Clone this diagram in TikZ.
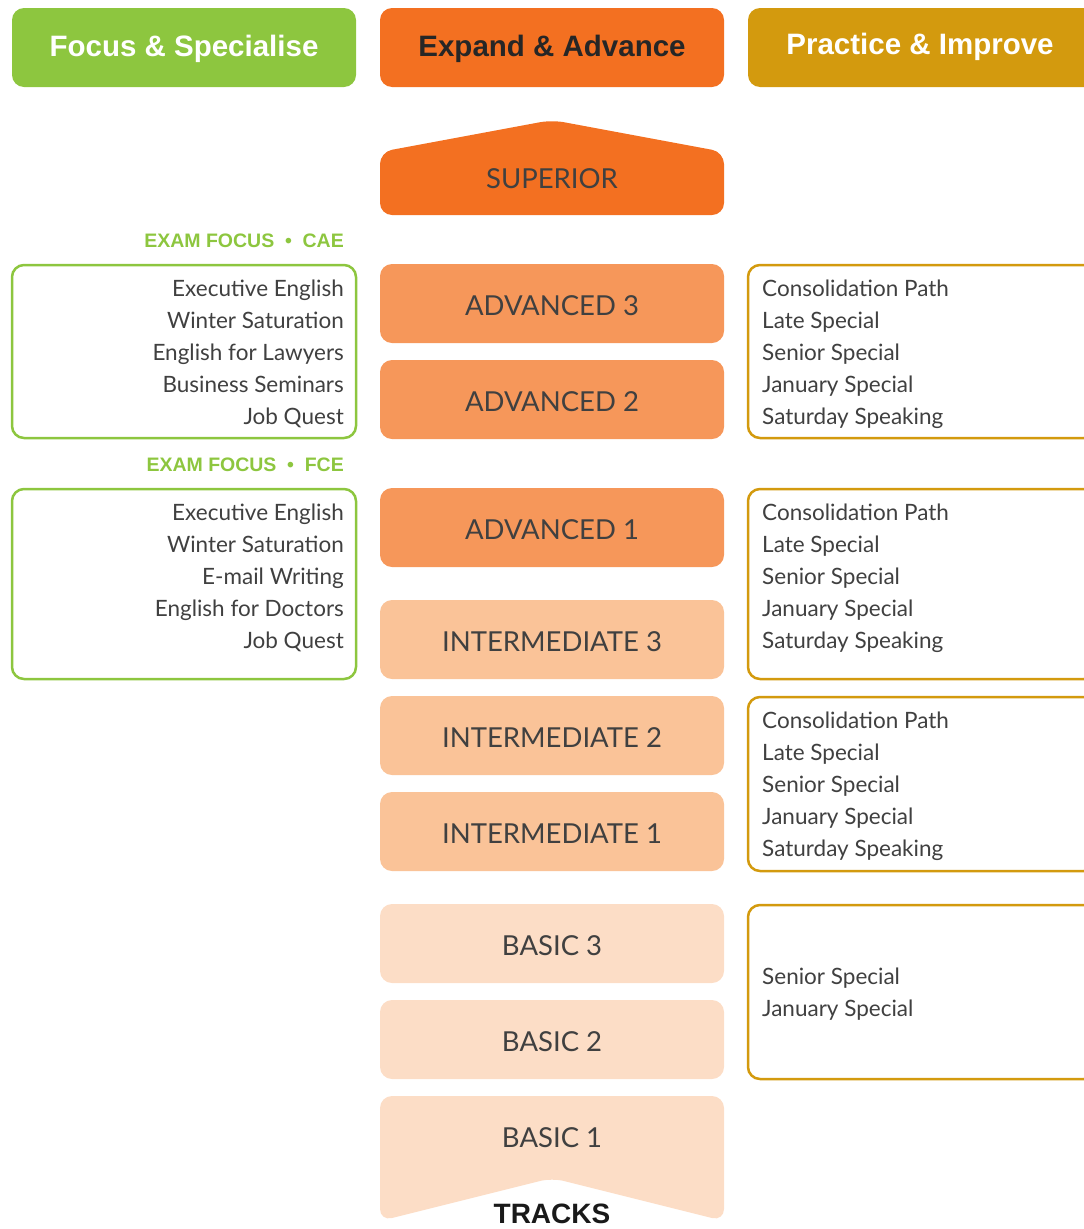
\documentclass[tikz,border=0pt]{standalone}
\usepackage{fontspec}
\setmainfont{Lato}
\newfontfamily\hdfont{Liberation Sans}
\definecolor{grn}{HTML}{8DC63F}
\definecolor{org}{HTML}{F37021}
\definecolor{gld}{HTML}{D39A0E}
\definecolor{advc}{HTML}{F6975A}
\definecolor{intc}{HTML}{FAC398}
\definecolor{basc}{HTML}{FCDDC6}
\definecolor{txt}{HTML}{404040}
\begin{document}
\begin{tikzpicture}[x=1pt,y=-1pt,
 hdr/.style={rounded corners=12pt, minimum width=344pt, minimum height=79pt, inner sep=0},
 hdrtext/.style={inner sep=0, font=\hdfont\bfseries\fontsize{29.5}{32}\selectfont},
 lvl/.style={rounded corners=12pt, minimum width=344pt, minimum height=79pt, inner sep=0},
 lvltext/.style={inner sep=0, text=txt, font=\fontsize{27.5}{30}\selectfont},
 gbox/.style={draw=grn, line width=2.5pt, rounded corners=12pt, inner sep=0, minimum width=344pt},
 ybox/.style={draw=gld, line width=2.5pt, rounded corners=12pt, inner sep=0, minimum width=348pt},
 item/.style={inner sep=0, text=txt, font=\fontsize{22.5}{24}\selectfont},
 exam/.style={inner sep=0, text=grn, font=\hdfont\bfseries\fontsize{19.5}{21}\selectfont}]
\useasboundingbox (0,0) rectangle (1084,1229);
\clip (0,0) rectangle (1084,1229);
% headers
\node[hdr, fill=grn] (h1) at (184,47.5) {};
\node[hdrtext, text=white] (h1t) at (184,49) {Focus \& Specialise};
\node[hdr, fill=org] (h2) at (552,47.5) {};
\node[hdrtext, text=black!85] (h2t) at (552,49) {Expand \& Advance};
\node[hdr, fill=gld, minimum width=348pt] (h3) at (922,47.5) {};
\node[hdrtext, text=white] (h3t) at (920,47) {Practice \& Improve};
% superior
\fill[org, rounded corners=12pt] (380,215) -- (380,152) -- (552,120) -- (724,152) -- (724,215) -- cycle;
\node[lvltext] (sup) at (552,179) {SUPERIOR};
% levels
\foreach \n/\c/\y/\t in {a3/advc/303.5/ADVANCED 3, a2/advc/399.5/ADVANCED 2, a1/advc/527.5/ADVANCED 1,
  i3/intc/639.5/INTERMEDIATE 3, i2/intc/735.5/INTERMEDIATE 2, i1/intc/831.5/INTERMEDIATE 1,
  b3/basc/943.5/BASIC 3, b2/basc/1039.5/BASIC 2}{
  \node[lvl, fill=\c] (\n) at (552,\y) {};
  \node[lvltext] (\n t) at (552,\y+2) {\t};
}
\fill[basc, rounded corners=12pt] (380,1096) -- (724,1096) -- (724,1221) -- (552,1178) -- (380,1221) -- cycle;
\node[lvltext] (b1) at (552,1138) {BASIC 1};
\node[inner sep=0, anchor=base, text depth=0pt, text=black!90, font=\hdfont\bfseries\fontsize{28}{30}\selectfont] (tracks) at (552,1223) {TRACKS};
% left
\node[exam, anchor=mid east] (cae) at (344,245) {EXAM FOCUS\hspace{0.55em}•\hspace{0.55em}CAE};
\node[gbox, minimum height=173pt] (l1) at (184,351.5) {};
\foreach \t [count=\i] in {Executive English, Winter Saturation, English for Lawyers, Business Seminars, Job Quest}
  \node[item, anchor=mid east] (l1t\i) at (344,262+32*\i) {\t};
\node[exam, anchor=mid east] (fce) at (344,469) {EXAM FOCUS\hspace{0.55em}•\hspace{0.55em}FCE};
\node[gbox, minimum height=190pt] (l2) at (184,584) {};
\foreach \t [count=\i] in {Executive English, Winter Saturation, E-mail Writing, English for Doctors, Job Quest}
  \node[item, anchor=mid east] (l2t\i) at (344,486+32*\i) {\t};
% right
\node[ybox, minimum height=173pt] (r1) at (922,351.5) {};
\foreach \t [count=\i] in {Consolidation Path, Late Special, Senior Special, January Special, Saturday Speaking}
  \node[item, anchor=mid west] (r1t\i) at (762,262+32*\i) {\t};
\node[ybox, minimum height=190pt] (r2) at (922,584) {};
\foreach \t [count=\i] in {Consolidation Path, Late Special, Senior Special, January Special, Saturday Speaking}
  \node[item, anchor=mid west] (r2t\i) at (762,486+32*\i) {\t};
\node[ybox, minimum height=174pt] (r3) at (922,784) {};
\foreach \t [count=\i] in {Consolidation Path, Late Special, Senior Special, January Special, Saturday Speaking}
  \node[item, anchor=mid west] (r3t\i) at (762,694+32*\i) {\t};
\node[ybox, minimum height=174pt] (r4) at (922,992) {};
\foreach \t [count=\i] in {Senior Special, January Special}
  \node[item, anchor=mid west] (r4t\i) at (762,950+32*\i) {\t};
\end{tikzpicture}
\end{document}
